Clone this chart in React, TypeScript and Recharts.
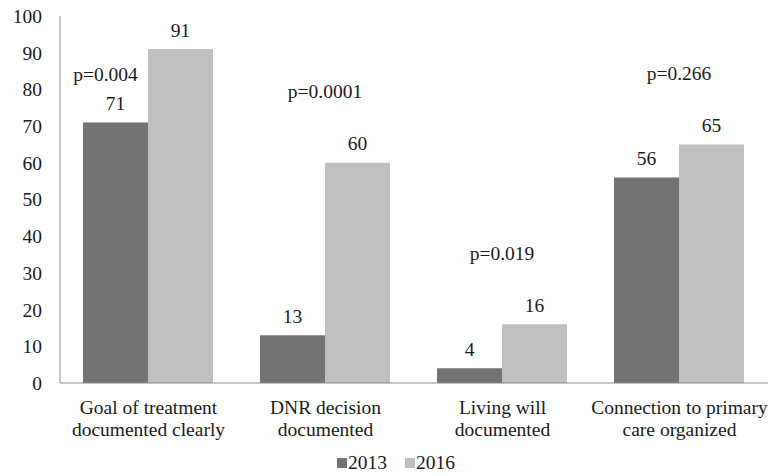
import React from "react";
import { BarChart, Bar, XAxis, YAxis, LabelList, Legend } from "recharts";

const categories = [
  "Goal of treatment\ndocumented clearly",
  "DNR decision\ndocumented",
  "Living will\ndocumented",
  "Connection to primary\ncare organized",
];
const values2013 = [71, 13, 4, 56];
const values2016 = [91, 60, 16, 65];
const pValues = ["p=0.004", "p=0.0001", "p=0.019", "p=0.266"];
const yTicks = [0, 10, 20, 30, 40, 50, 60, 70, 80, 90, 100];

const FONT = "Liberation Serif, DejaVu Serif, serif";
const FONT_SIZE = 19.5;
const TEXT_COLOR = "#1a1a1a";
const DARK = "#737373";
const LIGHT = "#bfbfbf";
const AXIS = "#8a8a8a";

const data = categories.map((name, i) => ({
  name,
  y2013: values2013[i],
  y2016: values2016[i],
}));

const CategoryTick = (props: any) => {
  const { x, y, payload } = props;
  const lines = String(payload.value).split("\n");
  return (
    <text
      x={x}
      y={y}
      textAnchor="middle"
      style={{ fontFamily: FONT, fontSize: FONT_SIZE }}
      fill={TEXT_COLOR}
    >
      {lines.map((line, i) => (
        <tspan key={i} x={x} dy={i === 0 ? 23 : 22}>
          {line}
        </tspan>
      ))}
    </text>
  );
};

const ValueLabel = (props: any) => {
  const { x, y, width, value } = props;
  return (
    <text
      x={x + width / 2}
      y={y - 12.5}
      textAnchor="middle"
      style={{ fontFamily: FONT, fontSize: FONT_SIZE }}
      fill={TEXT_COLOR}
    >
      {value}
    </text>
  );
};

// p-value sits above the pair; if there is no headroom over the taller bar,
// it moves over the 2013 bar instead.
const PValueLabel = (props: any) => {
  const { x, y, width, height, index } = props;
  const text = pValues[index];
  let tx = x;
  let ty = y - 64.5;
  if (ty < 20) {
    const base = y + height;
    const ppu = height / values2016[index];
    const darkTop = base - values2013[index] * ppu;
    tx = x - width / 2 - 10;
    ty = darkTop - 41.5;
  }
  return (
    <text
      x={tx}
      y={ty}
      textAnchor="middle"
      style={{ fontFamily: FONT, fontSize: FONT_SIZE }}
      fill={TEXT_COLOR}
    >
      {text}
    </text>
  );
};

const LegendContent = () => (
  <div
    style={{
      display: "flex",
      alignItems: "center",
      height: 26,
      lineHeight: "26px",
      paddingLeft: 337,
      fontFamily: FONT,
      fontSize: FONT_SIZE,
      color: TEXT_COLOR,
    }}
  >
    <span style={{ width: 10, height: 10, background: DARK, display: "inline-block" }} />
    <span style={{ marginLeft: 1, marginRight: 18 }}>2013</span>
    <span style={{ width: 10, height: 10, background: LIGHT, display: "inline-block" }} />
    <span style={{ marginLeft: 1 }}>2016</span>
  </div>
);

export default function App() {
  return (
    <div style={{ position: "absolute", left: 0, top: 0, background: "#fff", fontFamily: FONT }}>
      <BarChart
        width={768}
        height={476}
        data={data}
        margin={{ top: 16, right: 0, bottom: 0, left: 0 }}
        barCategoryGap="13%"
        barGap={0}
      >
        <XAxis
          dataKey="name"
          stroke={AXIS}
          tickLine={false}
          interval={0}
          height={67}
          tick={<CategoryTick />}
        />
        <YAxis
          domain={[0, 100]}
          ticks={yTicks}
          width={60}
          stroke={AXIS}
          tickLine={false}
          tickMargin={12}
          tick={{ style: { fontFamily: FONT, fontSize: FONT_SIZE }, fill: TEXT_COLOR }}
        />
        <Legend verticalAlign="bottom" height={26} content={<LegendContent />} />
        <Bar dataKey="y2013" fill={DARK} isAnimationActive={false}>
          <LabelList dataKey="y2013" content={<ValueLabel />} />
        </Bar>
        <Bar dataKey="y2016" fill={LIGHT} isAnimationActive={false}>
          <LabelList dataKey="y2016" content={<ValueLabel />} />
          <LabelList dataKey="y2016" content={<PValueLabel />} />
        </Bar>
      </BarChart>
    </div>
  );
}
